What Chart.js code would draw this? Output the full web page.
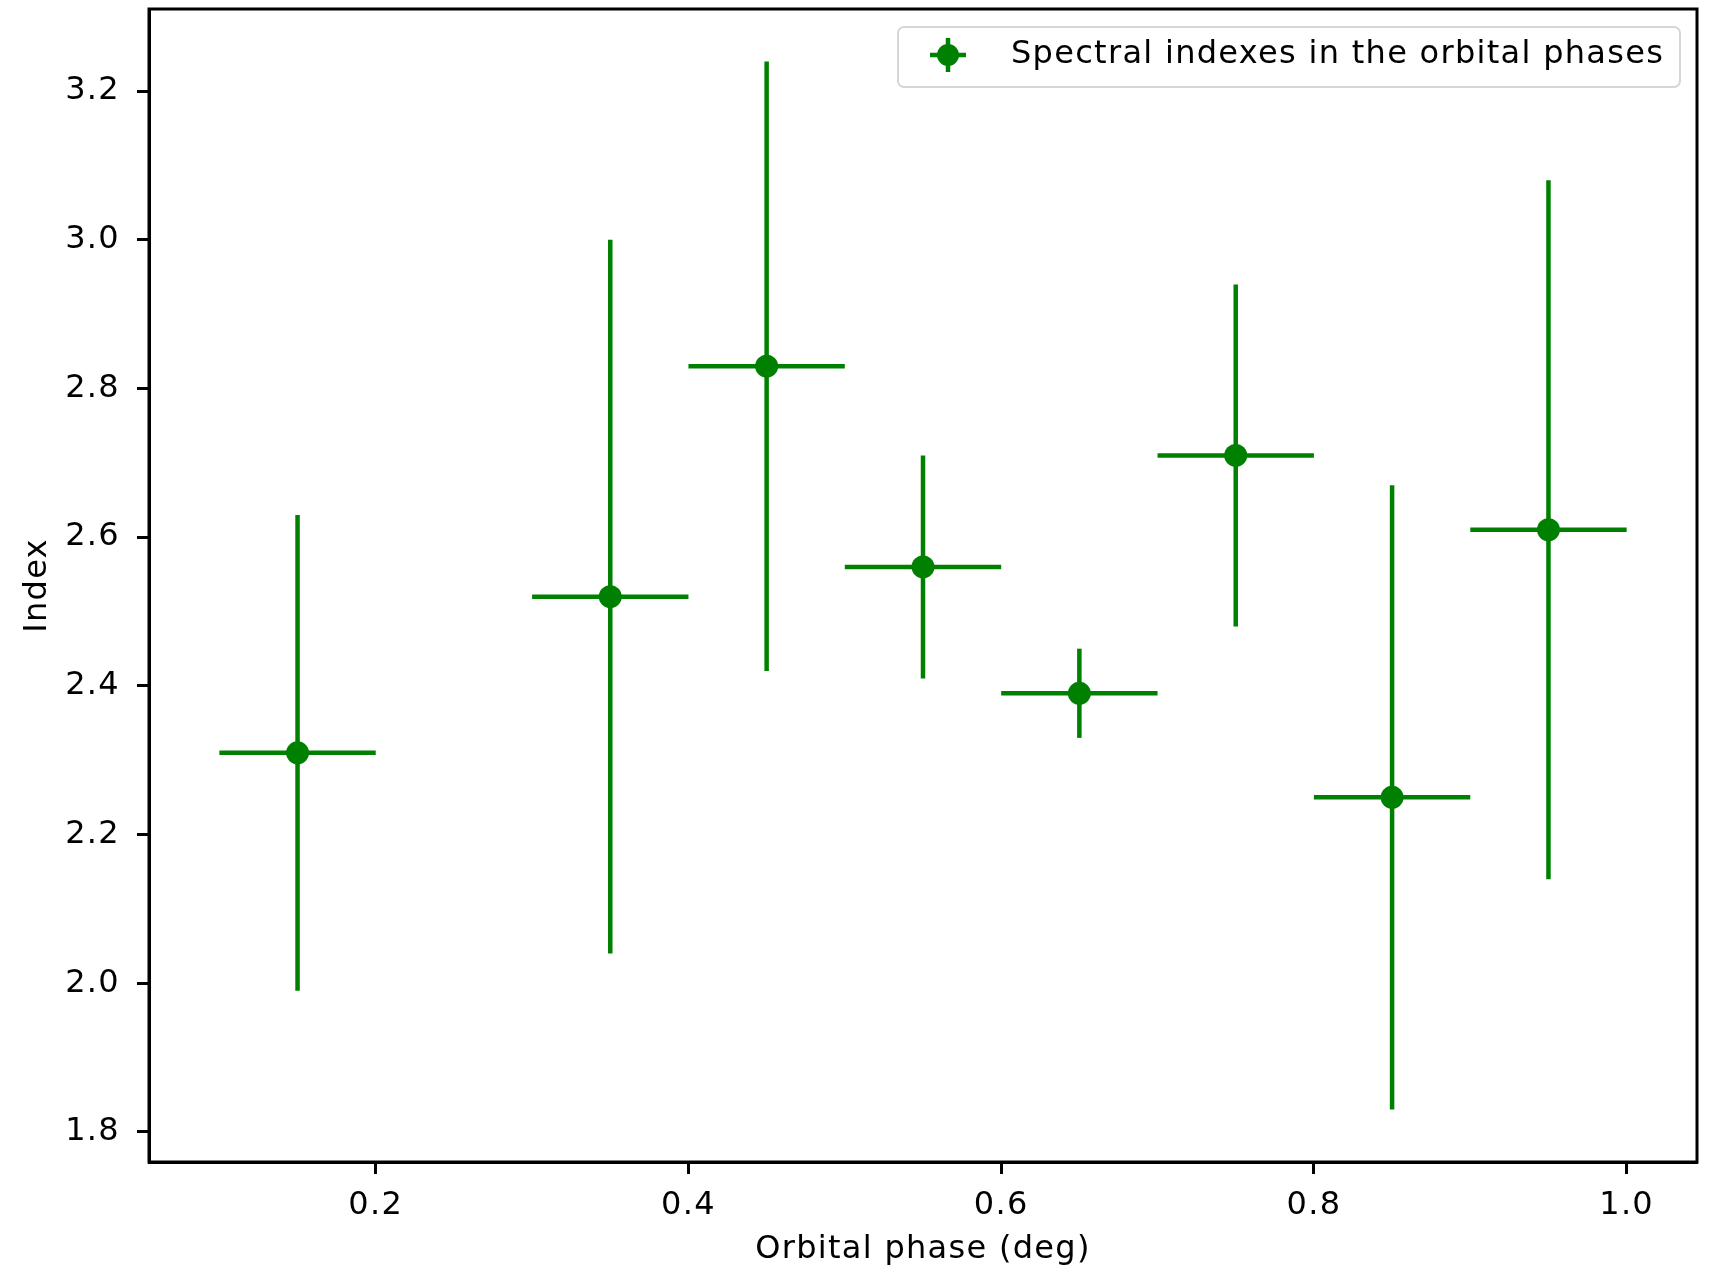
<!DOCTYPE html>
<html>
<head>
<meta charset="utf-8">
<script src="https://cdn.jsdelivr.net/npm/chart.js@4.4.1/dist/chart.umd.min.js"></script>
<style>
  html, body { margin: 0; padding: 0; background: #ffffff; }
  #wrap { width: 1709px; height: 1268px; }
</style>
</head>
<body>
<div id="wrap"><canvas id="c" width="1709" height="1268"></canvas></div>
<script>
// ---- data ----
const phase = [0.15, 0.35, 0.45, 0.55, 0.65, 0.75, 0.85, 0.95];
const index = [2.31, 2.52, 2.83, 2.56, 2.39, 2.71, 2.25, 2.61];
const indexErr = [0.32, 0.48, 0.41, 0.15, 0.06, 0.23, 0.42, 0.47];
const phaseErr = [0.05, 0.05, 0.05, 0.05, 0.05, 0.05, 0.05, 0.05];
const xTicks = [0.2, 0.4, 0.6, 0.8, 1.0];
const yTicks = [1.8, 2.0, 2.2, 2.4, 2.6, 2.8, 3.0, 3.2];
const seriesLabel = 'Spectral indexes in the orbital phases';
const xTitle = 'Orbital phase (deg)';
const yTitle = 'Index';

const GREEN = '#008000';
const FONT = 'DejaVu Sans';
const FS = 32;
const SPACING = '1.3px';

const datasets = [{
  type: 'scatter',
  label: seriesLabel,
  data: phase.map((x, i) => ({ x: x, y: index[i] })),
  pointRadius: 11.5,
  pointHoverRadius: 11.5,
  backgroundColor: GREEN,
  borderWidth: 0
}];
phase.forEach((x, i) => {
  datasets.push({
    type: 'line', label: '_v' + i,
    data: [{ x: x, y: index[i] - indexErr[i] }, { x: x, y: index[i] + indexErr[i] }],
    borderColor: GREEN, borderWidth: 4.5, pointRadius: 0, borderCapStyle: 'butt', fill: false
  });
  datasets.push({
    type: 'line', label: '_h' + i,
    data: [{ x: x - phaseErr[i], y: index[i] }, { x: x + phaseErr[i], y: index[i] }],
    borderColor: GREEN, borderWidth: 4.5, pointRadius: 0, borderCapStyle: 'butt', fill: false
  });
});

// data limits with 5% margins (matplotlib style)
const xLo = Math.min(...phase.map((x, i) => x - phaseErr[i]));
const xHi = Math.max(...phase.map((x, i) => x + phaseErr[i]));
const yLo = Math.min(...index.map((y, i) => y - indexErr[i]));
const yHi = Math.max(...index.map((y, i) => y + indexErr[i]));
const xm = (xHi - xLo) * 0.05, ym = (yHi - yLo) * 0.05;

const zeroPad = s => { s.paddingTop = 0; s.paddingBottom = 0; s.paddingLeft = 0; s.paddingRight = 0; };

const framePlugin = {
  id: 'frame',
  beforeDraw(chart) {
    try { chart.ctx.letterSpacing = SPACING; } catch (e) {}
  },
  afterDraw(chart) {
    const ctx = chart.ctx, a = chart.chartArea;
    ctx.save();
    ctx.strokeStyle = '#000';
    ctx.lineWidth = 3;
    ctx.strokeRect(a.left, a.top, a.right - a.left, a.bottom - a.top);
    // legend box
    const bx = 898, by = 27, bw = 782, bh = 60, r = 6;
    ctx.beginPath();
    ctx.moveTo(bx + r, by);
    ctx.arcTo(bx + bw, by, bx + bw, by + bh, r);
    ctx.arcTo(bx + bw, by + bh, bx, by + bh, r);
    ctx.arcTo(bx, by + bh, bx, by, r);
    ctx.arcTo(bx, by, bx + bw, by, r);
    ctx.closePath();
    ctx.fillStyle = 'rgba(255,255,255,0.8)';
    ctx.fill();
    ctx.strokeStyle = '#d6d6d6';
    ctx.lineWidth = 2;
    ctx.stroke();
    const mx = 948, my = 55;
    ctx.strokeStyle = GREEN;
    ctx.lineWidth = 4.5;
    ctx.beginPath();
    ctx.moveTo(mx - 18, my); ctx.lineTo(mx + 18, my);
    ctx.moveTo(mx, my - 17); ctx.lineTo(mx, my + 17);
    ctx.stroke();
    ctx.fillStyle = GREEN;
    ctx.beginPath();
    ctx.arc(mx, my, 11, 0, Math.PI * 2);
    ctx.fill();
    ctx.fillStyle = '#000';
    ctx.font = FS + 'px "' + FONT + '"';
    try { ctx.letterSpacing = SPACING; } catch (e) {}
    ctx.textBaseline = 'middle';
    ctx.textAlign = 'left';
    ctx.fillText(seriesLabel, 1011, 55);
    ctx.restore();
  }
};

new Chart(document.getElementById('c'), {
  type: 'scatter',
  data: { datasets: datasets },
  plugins: [framePlugin],
  options: {
    responsive: false,
    animation: false,
    events: [],
    layout: { autoPadding: false, padding: { left: 0, top: 9, right: 12, bottom: 0 } },
    plugins: { legend: { display: false }, tooltip: { enabled: false } },
    scales: {
      x: {
        type: 'linear',
        min: xLo - xm, max: xHi + xm,
        afterBuildTicks: s => { s.ticks = xTicks.map(v => ({ value: v })); },
        afterFit: s => { s.height = 106; zeroPad(s); },
        grid: { drawOnChartArea: false, drawTicks: true, tickLength: 12, tickWidth: 3, tickColor: '#000' },
        border: { display: true, color: '#000', width: 3 },
        ticks: { color: '#000', font: { family: FONT, size: FS }, padding: 12, maxRotation: 0,
                 callback: v => Number(v).toFixed(1) },
        title: { display: true, text: xTitle, color: '#000', font: { family: FONT, size: FS, lineHeight: 1.12 },
                 padding: { top: 0, bottom: 0 } }
      },
      y: {
        type: 'linear',
        min: yLo - ym, max: yHi + ym,
        afterBuildTicks: s => { s.ticks = yTicks.map(v => ({ value: v })); },
        afterFit: s => { s.width = 149; zeroPad(s); },
        grid: { drawOnChartArea: false, drawTicks: true, tickLength: 12, tickWidth: 3, tickColor: '#000' },
        border: { display: true, color: '#000', width: 3 },
        ticks: { color: '#000', font: { family: FONT, size: FS }, padding: 17,
                 callback: v => Number(v).toFixed(1) },
        title: { display: true, text: yTitle, color: '#000', font: { family: FONT, size: FS },
                 padding: { top: 18, bottom: 0 } }
      }
    }
  }
});
</script>
</body>
</html>
